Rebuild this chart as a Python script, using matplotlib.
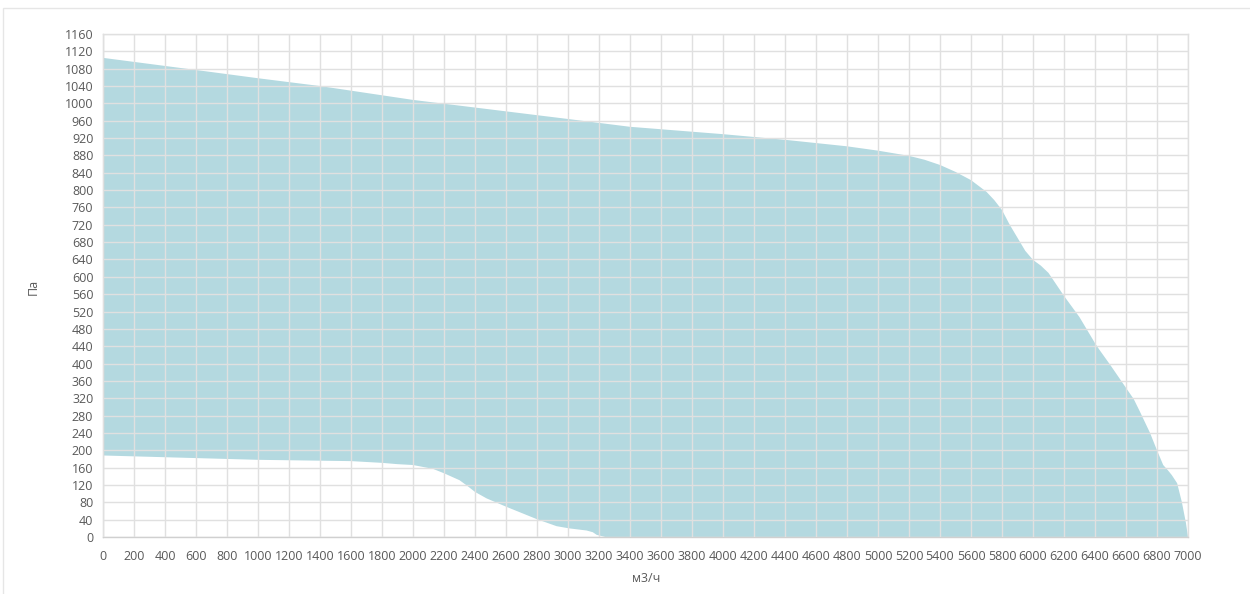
import numpy as np
import matplotlib
matplotlib.use('Agg')
import matplotlib.pyplot as plt
from matplotlib.patches import Rectangle

# ─── Data ─────────────────────────────────────────────────────────────────────
upper_x = [0, 600, 1000, 1400, 2000, 3000, 3400, 4000, 4400, 4800, 5000, 5200,
           5300, 5400, 5500, 5600, 5700, 5750, 5800, 5850, 5900, 5950, 6000, 6050,
           6100, 6200, 6300, 6400, 6430, 6500, 6600, 6650, 6690, 6755, 6800, 6840,
           6870, 6895, 6930, 6960, 6987, 7000]
upper_y = [1105, 1077, 1058, 1040, 1008, 964, 946, 929, 916, 901, 891, 879,
           870, 858, 842, 823, 796, 777, 754, 720, 690, 660, 639, 626,
           609, 556, 507, 447, 431, 396, 344, 318, 289, 240, 200, 166,
           154, 143, 124, 81, 32, 0]

lower_x = [0, 1000, 1600, 1800, 1900, 2000, 2130, 2200, 2300, 2350, 2400, 2475,
           2600, 2800, 2926, 3006, 3120, 3160, 3185, 3240]
lower_y = [188, 178, 175, 171, 168, 166, 157, 147, 131, 118, 104, 89,
           70, 41, 25, 20, 15, 11, 5, 0]

x_ticks = np.arange(0, 7001, 200)
y_ticks = np.arange(0, 1161, 40)

FILL = '#b4d9e0'
GRID = '#e0e0e0'
TXT = '#595959'

fig = plt.figure(figsize=(12.5, 5.94), dpi=100)
ax = fig.add_axes([103 / 1250, 57 / 594, 1085 / 1250, 503 / 594])

poly_x = np.concatenate([upper_x, lower_x[::-1]])
poly_y = np.concatenate([upper_y, lower_y[::-1]])
ax.fill(poly_x, poly_y, color=FILL, linewidth=0, zorder=1)

ax.set_xlim(0, 7000)
ax.set_ylim(0, 1160)
ax.set_xticks(x_ticks)
ax.set_yticks(y_ticks)
ax.grid(True, color=GRID, linewidth=1.0, zorder=2)
ax.set_axisbelow(False)
for s in ax.spines.values():
    s.set_color(GRID)
    s.set_linewidth(1.0)
ax.spines['left'].set_color('#d0d0d0')
ax.spines['bottom'].set_color('#d0d0d0')
ax.tick_params(length=0, labelsize=9, labelcolor=TXT)
ax.tick_params(axis='x', pad=9)
ax.tick_params(axis='y', pad=7)
for lab in ax.get_xticklabels() + ax.get_yticklabels():
    lab.set_family('Open Sans')

ax.set_xlabel('м3/ч', fontsize=9, color=TXT, family='Open Sans')
ax.set_ylabel('Па', fontsize=9, color=TXT, family='Open Sans')
ax.xaxis.set_label_coords((646 - 103) / 1085, -(572 - 537) / 503)
ax.yaxis.set_label_coords((40 - 103) / 1085, (537 - 287) / 503)

# light frame around the chart area (top and left edges visible)
fig.patches.append(Rectangle((3 / 1250, -0.05), 1.1, (594 - 8) / 594 + 0.05,
                             transform=fig.transFigure, fill=False,
                             edgecolor='#e6e6e6', linewidth=1))

plt.savefig('out.png', dpi=100)
plt.close()
